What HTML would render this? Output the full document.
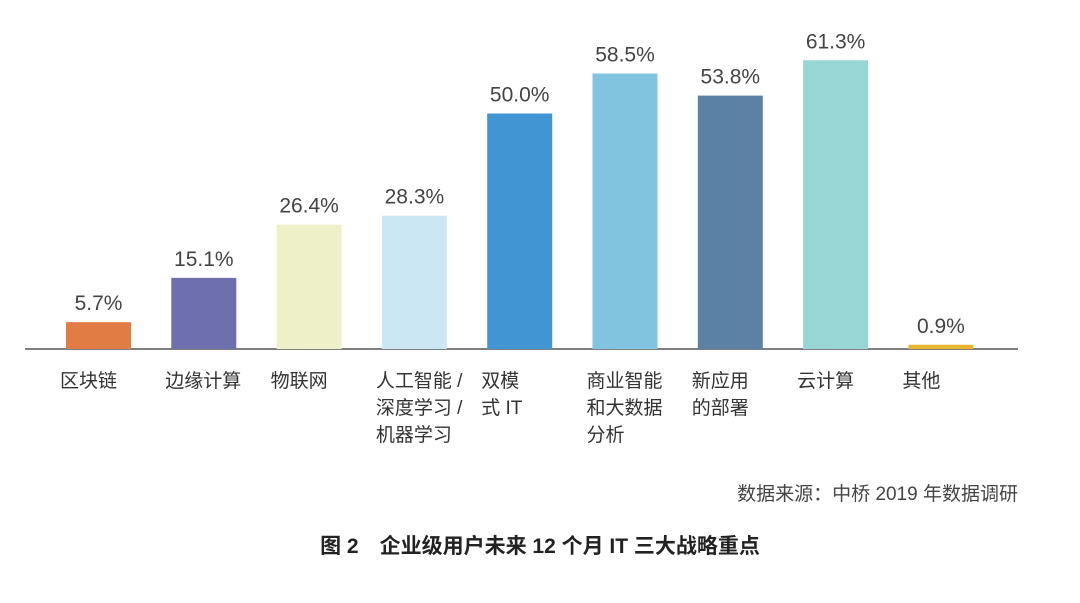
<!DOCTYPE html>
<html><head><meta charset="utf-8">
<style>
body{margin:0;background:#fff;}
svg{display:block;font-family:"Liberation Sans","Noto Sans CJK SC",sans-serif;}
</style></head>
<body>
<svg id="chart" width="1080" height="603" viewBox="0 0 1080 603">
<line x1="25" y1="349" x2="1018" y2="349" stroke="#555" stroke-width="1.5"/>
<g id="bars"></g>
<text x="1018" y="500" text-anchor="end" font-size="19" fill="#444">数据来源：中桥 2019 年数据调研</text>
<text x="540" y="553" text-anchor="middle" font-size="21" font-weight="bold" fill="#222">图 2　企业级用户未来 12 个月 IT 三大战略重点</text>
</svg>
<script>
const categories=[["区块链"],["边缘计算"],["物联网"],["人工智能 /","深度学习 /","机器学习"],["双模","式 IT"],["商业智能","和大数据","分析"],["新应用","的部署"],["云计算"],["其他"]];
const values=[5.7,15.1,26.4,28.3,50.0,58.5,53.8,61.3,0.9];
const valueLabels=["5.7%","15.1%","26.4%","28.3%","50.0%","58.5%","53.8%","61.3%","0.9%"];
const colors=["#E27C45","#6E6FAD","#EEF0C8","#CBE7F3","#4195D3","#80C4E0","#5B82A4","#97D6D5","#E9B42E"];
const NS="http://www.w3.org/2000/svg";
const g=document.getElementById('bars');
const baseY=349,pxPer=4.71,x0=66,step=105.3,bw=65;
function xPos(i){return x0+i*step;}
function yPos(v){return baseY-v*pxPer;}
values.forEach((v,i)=>{
  const r=document.createElementNS(NS,'rect');
  
  
  const y=yPos(v);
  r.setAttribute('x',xPos(i));r.setAttribute('y',y);
  r.setAttribute('width',bw);r.setAttribute('height',Math.max(baseY-y,3));
  r.setAttribute('fill',colors[i]);
  g.appendChild(r);
  const t=document.createElementNS(NS,'text');
  
  
  t.setAttribute('x',xPos(i)+bw/2);t.setAttribute('y',Math.min(y,baseY-3)-12);
  t.setAttribute('text-anchor','middle');t.setAttribute('font-size','21');t.setAttribute('fill','#444');
  t.textContent=valueLabels[i];
  g.appendChild(t);
  categories[i].forEach((line,j)=>{
    const c=document.createElementNS(NS,'text');
    
    
    c.setAttribute('x',xPos(i)-6);c.setAttribute('y',387+j*27);
    c.setAttribute('font-size','19');c.setAttribute('fill','#333');
    c.textContent=line;
    g.appendChild(c);
  });
});
</script>
</body></html>
